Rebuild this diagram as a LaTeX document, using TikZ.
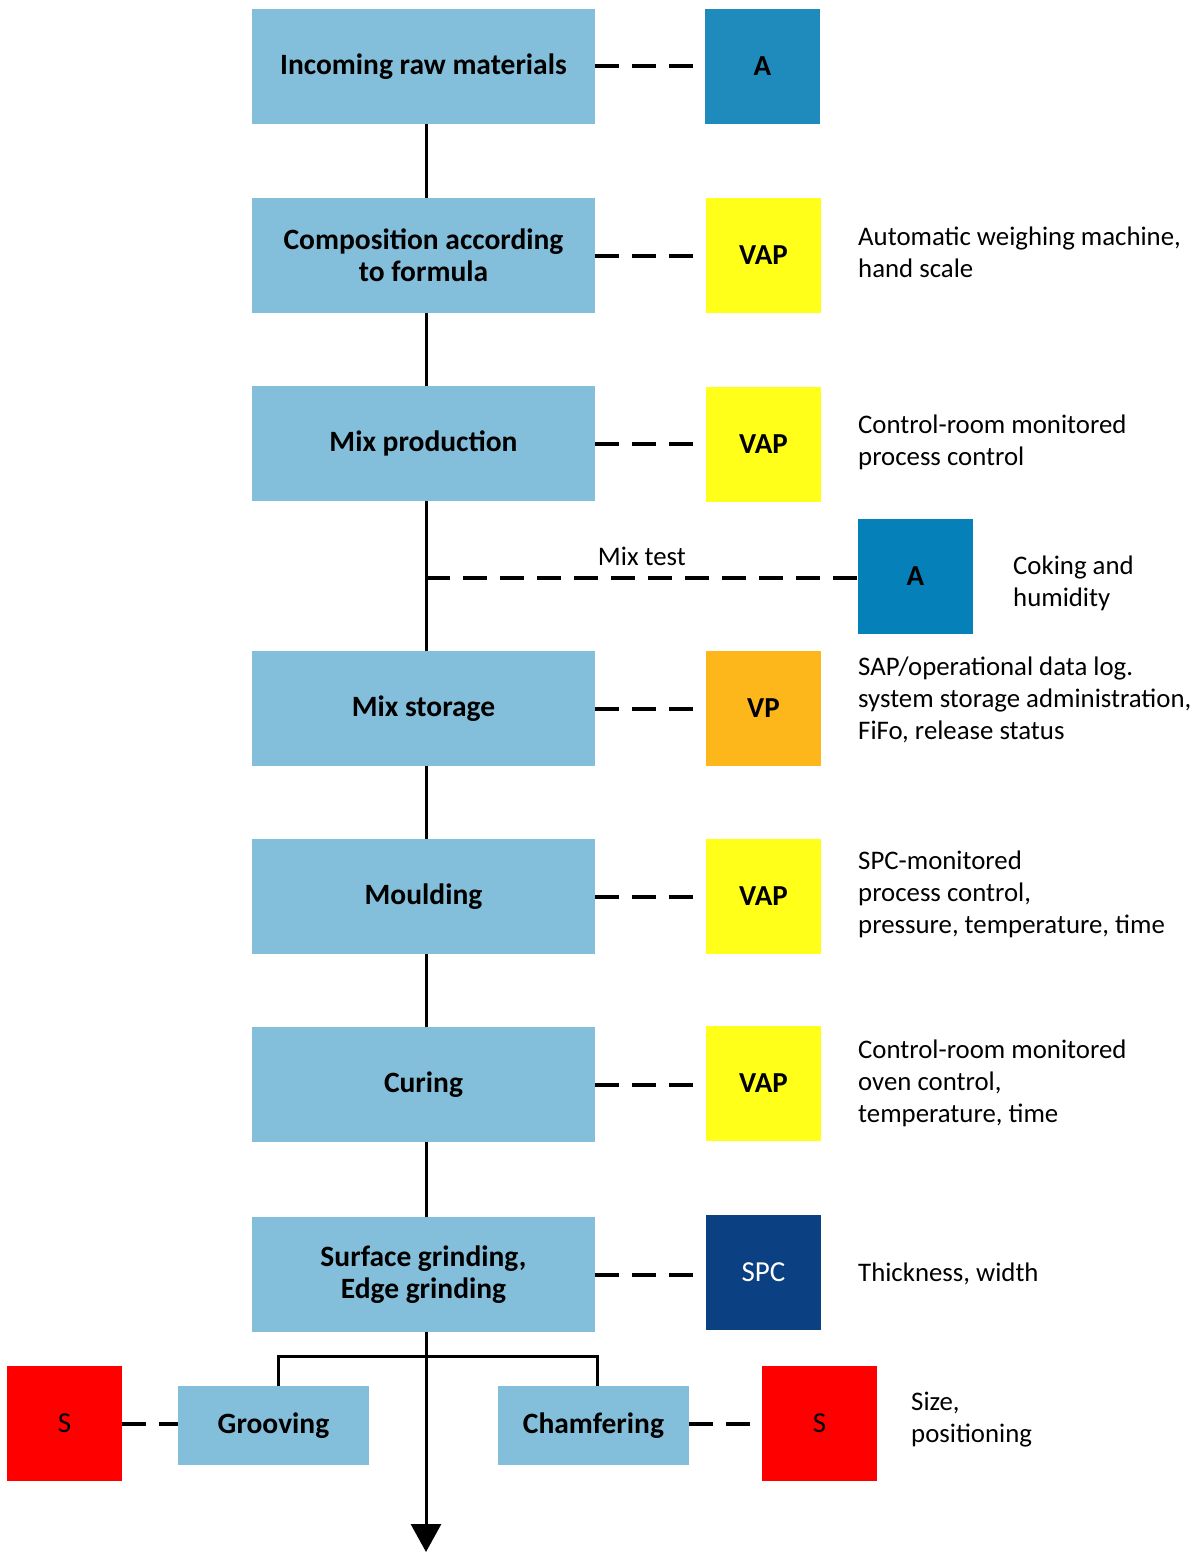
\documentclass[tikz,border=0pt]{standalone}
\usepackage{fontspec}
\setmainfont{Carlito}
\usetikzlibrary{arrows.meta,calc}
\definecolor{stepblue}{HTML}{83BFDB}
\definecolor{ablue}{HTML}{1F8BBD}
\definecolor{ablue2}{HTML}{0680B8}
\definecolor{vapyellow}{HTML}{FFFF1A}
\definecolor{vporange}{HTML}{FDB71A}
\definecolor{spcblue}{HTML}{0B4082}
\definecolor{sred}{HTML}{FF0000}
\begin{document}
\begin{tikzpicture}[x=1pt,y=-1pt,
  stepbox/.style={fill=stepblue,minimum width=343pt,minimum height=115pt,inner sep=0pt,
    align=center,font=\fontsize{29.5}{32}\selectfont\bfseries},
  subbox/.style={fill=stepblue,minimum width=191pt,minimum height=79pt,inner sep=0pt,
    font=\fontsize{29.5}{32}\selectfont\bfseries},
  tag/.style={minimum width=115pt,minimum height=115pt,inner sep=0pt,
    font=\fontsize{29}{32}\selectfont\bfseries},
  plaintag/.style={tag,font=\fontsize{29}{32}\selectfont},
  note/.style={anchor=west,align=left,inner sep=0pt,
    font=\fontsize{26.8}{32}\selectfont},
  flow/.style={line width=3pt},
  link/.style={line width=4pt,dash pattern=on 24pt off 13pt}]
\useasboundingbox (0,0) rectangle (1193,1552);

% process steps
\node[stepbox] (s1) at (423.5,66.5) {Incoming raw materials};
\node[stepbox] (s2) at (423.5,255.5) {Composition according\\to formula};
\node[stepbox] (s3) at (423.5,443.5) {Mix production};
\node[stepbox] (s4) at (423.5,708.5) {Mix storage};
\node[stepbox] (s5) at (423.5,896.5) {Moulding};
\node[stepbox] (s6) at (423.5,1084.5) {Curing};
\node[stepbox] (s7) at (423.5,1274.5) {Surface grinding,\\Edge grinding};
\node[subbox] (g) at (273.5,1425.5) {Grooving};
\node[subbox] (c) at (593.5,1425.5) {Chamfering};

% inspection tags
\node[tag,fill=ablue] (t1) at (762.5,66.5) {A};
\node[tag,fill=vapyellow] (t2) at (763.5,255.5) {VAP};
\node[tag,fill=vapyellow] (t3) at (763.5,444) {VAP};
\node[tag,fill=ablue2] (t4) at (915.5,576.5) {A};
\node[tag,fill=vporange] (t5) at (763.5,708.5) {VP};
\node[tag,fill=vapyellow] (t6) at (763.5,896.5) {VAP};
\node[tag,fill=vapyellow] (t7) at (763.5,1083.5) {VAP};
\node[plaintag,fill=spcblue,text=white] (t8) at (763.5,1272.5) {SPC};
\node[plaintag,fill=sred] (tg) at (64.5,1423.5) {S};
\node[plaintag,fill=sred] (tc) at (819.5,1423.5) {S};

% notes
\node[note] (n2) at (858,252) {Automatic weighing machine,\\hand scale};
\node[note] (n3) at (858,442) {Control-room monitored\\process control};
\node[note] (n4) at (1013,583) {Coking and\\humidity};
\node[note] (n5) at (858,700) {SAP/operational data log.\\system storage administration,\\FiFo, release status};
\node[note] (n6) at (858,894) {SPC-monitored\\process control,\\pressure, temperature, time};
\node[note] (n7) at (858,1083) {Control-room monitored\\oven control,\\temperature, time};
\node[note] (n8) at (858,1274) {Thickness, width};
\node[note] (nc) at (911,1420) {Size,\\positioning};

% main flow
\coordinate (mt) at (426,578);
\coordinate (j) at (426,1356);
\coordinate (end) at (426,1552);
\draw[flow] (s1.south -| mt) -- (s2.north -| mt);
\draw[flow] (s2.south -| mt) -- (s3.north -| mt);
\draw[flow] (s3.south -| mt) -- (s4.north -| mt);
\draw[flow] (s4.south -| mt) -- (s5.north -| mt);
\draw[flow] (s5.south -| mt) -- (s6.north -| mt);
\draw[flow] (s6.south -| mt) -- (s7.north -| mt);
\draw[flow,-{Triangle[width=30pt,length=28pt]}] (s7.south -| mt) -- (end);
\draw[flow] ($(g.north)+(4.5,0)$) |- (j) -| ($(c.north)+(3.5,0)$);

% inspection links
\draw[link] (s1.east) -- (t1.west);
\draw[link] (s2.east) -- (t2.west);
\draw[link] (s3.east) -- (t3.west |- s3.east);
\draw[link] (mt) -- node[above=10pt,inner sep=0pt,font=\fontsize{26.8}{32}\selectfont] {Mix test} (t4.west |- mt);
\draw[link] (s4.east) -- (t5.west |- s4.east);
\draw[link] (s5.east) -- (t6.west |- s5.east);
\draw[link] (s6.east) -- (t7.west |- s6.east);
\draw[link] (s7.east) -- (t8.west |- s7.east);
\draw[link] (tg.east) -- (g.west |- tg.east);
\draw[link] (c.east |- tc.west) -- (tc.west);
\end{tikzpicture}
\end{document}
